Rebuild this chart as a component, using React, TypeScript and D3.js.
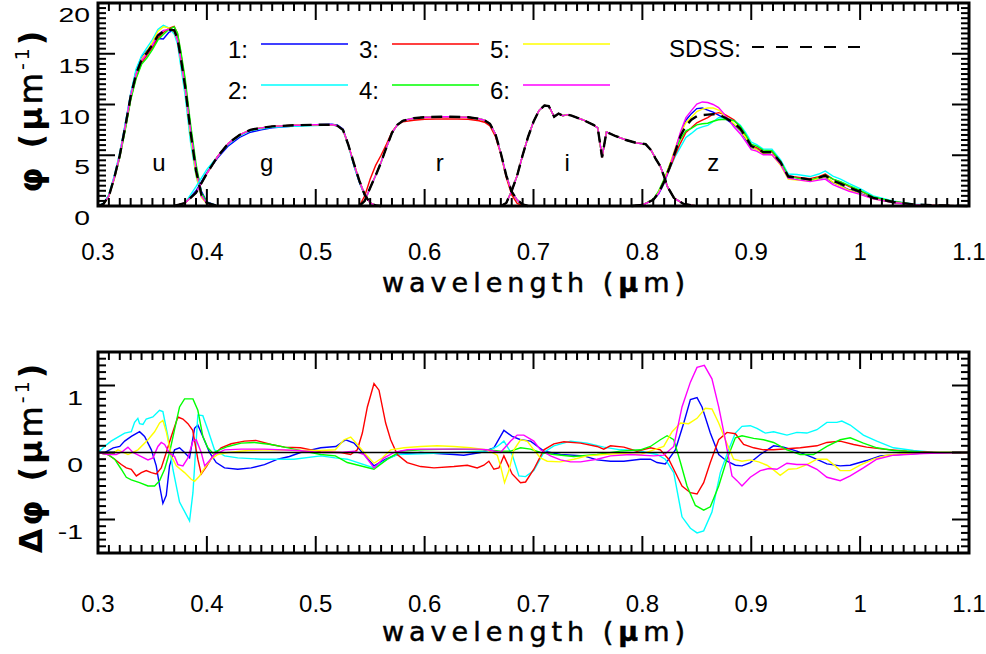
import React from 'react';
import * as d3 from 'd3';

// ---------- axis / legend constants ----------
const X_MAJOR = [0.3, 0.4, 0.5, 0.6, 0.7, 0.8, 0.9, 1.0, 1.1];
const X_LABELS = ['0.3', '0.4', '0.5', '0.6', '0.7', '0.8', '0.9', '1', '1.1'];
const TOP_Y_MAJOR = [0, 5, 10, 15, 20];
const BOT_Y_MAJOR = [-1, 0, 1];
const SERIES_NAMES = ['1:', '2:', '3:', '4:', '5:', '6:'];
const SERIES_COLORS = ['#0000ff', '#00ffff', '#ff0000', '#00ff00', '#ffff00', '#ff00ff'];
const FILTER_NAMES = ['u', 'g', 'r', 'i', 'z'];
const FILTER_LABEL_LAM = [0.356, 0.455, 0.614, 0.731, 0.865];

// ---------- top panel: filter curves (SDSS + six series) ----------
const U_LAM = [0.300, 0.305, 0.310, 0.315, 0.320, 0.325, 0.330, 0.335, 0.340, 0.345, 0.350, 0.355, 0.360, 0.365, 0.370, 0.373, 0.376, 0.380, 0.385, 0.390, 0.395, 0.400, 0.410];
const U_SDSS = [0, 0.2, 1.0, 2.8, 5.0, 7.8, 10.8, 13.0, 14.4, 15.1, 15.9, 16.8, 17.2, 17.4, 17.3, 16.5, 14.6, 11.8, 7.3, 3.5, 1.1, 0.3, 0];
const U_S1 = [0, 0.2, 1.05, 2.9, 5.1, 8.0, 11.0, 13.3, 14.7, 15.3, 15.9, 16.5, 16.45, 17.1, 17.35, 16.55, 14.65, 11.8, 7.25, 3.85, 1.45, 0.4, 0];
const U_S2 = [0, 0.28, 1.15, 3.0, 5.25, 8.1, 11.1, 13.5, 14.8, 15.6, 16.4, 17.4, 17.8, 17.55, 16.95, 15.95, 13.8, 10.9, 6.3, 3.0, 0.9, 0.25, 0];
const U_S3 = [0, 0.19, 0.96, 2.7, 4.85, 7.6, 10.55, 12.65, 14.1, 14.85, 15.6, 16.5, 17.1, 17.5, 17.7, 17.0, 15.1, 12.3, 7.7, 3.6, 1.0, 0.25, 0];
const U_S4 = [0, 0.19, 0.97, 2.7, 4.8, 7.45, 10.4, 12.55, 13.95, 14.6, 15.4, 16.35, 16.9, 17.4, 17.65, 17.05, 15.3, 12.6, 8.1, 4.2, 1.3, 0.35, 0];
const U_S5 = [0, 0.19, 0.98, 2.77, 5.05, 7.8, 10.8, 13.0, 14.45, 15.25, 16.15, 17.2, 17.65, 17.55, 17.15, 16.3, 14.35, 11.5, 6.9, 3.1, 0.85, 0.2, 0];
const U_S6 = [0, 0.2, 0.98, 2.8, 5.0, 7.85, 10.85, 12.98, 14.35, 15.0, 15.85, 16.9, 17.3, 17.4, 17.25, 16.35, 14.45, 11.7, 7.4, 3.65, 1.0, 0.25, 0];

const G_LAM = [0.37, 0.38, 0.39, 0.40, 0.41, 0.42, 0.43, 0.44, 0.45, 0.46, 0.48, 0.50, 0.515, 0.52, 0.525, 0.53, 0.535, 0.54, 0.545, 0.55, 0.555, 0.56];
const G_SDSS = [0, 0.3, 1.3, 3.2, 4.9, 6.2, 7.0, 7.5, 7.7, 7.85, 7.95, 8.0, 8.0, 7.9, 7.5, 6.0, 4.2, 2.5, 1.1, 0.3, 0.05, 0];
const G_S1 = [0, 0.3, 1.5, 3.3, 4.75, 5.95, 6.75, 7.27, 7.5, 7.7, 7.87, 8.02, 8.05, 7.97, 7.6, 6.05, 4.0, 2.35, 1.05, 0.3, 0.05, 0];
const G_S2 = [0, 0.3, 1.9, 3.6, 4.9, 6.1, 6.92, 7.42, 7.6, 7.75, 7.85, 7.93, 7.98, 7.88, 7.45, 5.9, 4.0, 2.4, 1.05, 0.3, 0.05, 0];

const R_LAM = [0.540, 0.545, 0.550, 0.555, 0.560, 0.565, 0.570, 0.575, 0.580, 0.590, 0.600, 0.620, 0.640, 0.650, 0.655, 0.660, 0.665, 0.670, 0.675, 0.680, 0.685, 0.690, 0.695];
const R_SDSS = [0, 0.5, 1.8, 3.0, 4.3, 5.8, 7.2, 8.0, 8.4, 8.65, 8.75, 8.8, 8.75, 8.6, 8.45, 8.1, 7.1, 5.2, 3.0, 1.4, 0.6, 0.15, 0];
const R_S3 = [0, 1.0, 2.65, 4.0, 5.0, 6.1, 7.3, 8.0, 8.3, 8.45, 8.54, 8.58, 8.55, 8.4, 8.25, 7.9, 6.85, 5.1, 2.8, 1.1, 0.25, 0.05, 0];

const I_LAM = [0.670, 0.675, 0.680, 0.685, 0.690, 0.695, 0.700, 0.705, 0.710, 0.714, 0.719, 0.723, 0.727, 0.731, 0.735, 0.745, 0.755, 0.759, 0.763, 0.767, 0.775, 0.785, 0.795, 0.803, 0.808, 0.812, 0.8165, 0.82, 0.823, 0.829, 0.838, 0.85];
const I_SDSS = [0, 0.3, 1.5, 3.0, 5.0, 6.8, 8.3, 9.4, 9.9, 9.85, 8.8, 9.1, 8.9, 9.0, 8.9, 8.5, 8.0, 7.7, 4.8, 7.3, 6.9, 6.5, 6.2, 6.1, 5.5, 4.7, 3.9, 2.9, 1.9, 0.8, 0.2, 0];

const Z_LAM = [0.79, 0.80, 0.81, 0.815, 0.82, 0.825, 0.83, 0.835, 0.84, 0.845, 0.85, 0.855, 0.86, 0.865, 0.87, 0.876, 0.884, 0.89, 0.895, 0.90, 0.905, 0.911, 0.919, 0.927, 0.934, 0.942, 0.954, 0.962, 0.968, 0.975, 0.982, 0.99, 1.0, 1.012, 1.03, 1.05, 1.075, 1.1];
const Z_SDSS = [0, 0.1, 0.6, 1.3, 2.4, 3.8, 5.3, 6.9, 7.9, 8.5, 8.85, 8.95, 9.0, 9.05, 9.0, 8.7, 8.2, 7.6, 6.8, 5.9, 5.7, 5.3, 5.3, 4.3, 2.9, 2.8, 2.6, 2.8, 3.0, 2.5, 2.2, 1.8, 1.4, 0.8, 0.4, 0.15, 0.05, 0];
const Z_S1 = [0, 0.1, 0.6, 1.2, 2.25, 3.8, 5.5, 7.1, 8.45, 9.1, 9.6, 9.65, 9.45, 9.25, 8.95, 8.6, 8.0, 7.4, 6.6, 5.75, 5.6, 5.3, 5.4, 4.4, 2.95, 2.8, 2.55, 2.7, 2.85, 2.3, 2.0, 1.6, 1.25, 0.75, 0.35, 0.12, 0.05, 0];
const Z_S2 = [0, 0.1, 0.6, 1.3, 2.3, 3.6, 4.85, 5.8, 6.75, 7.15, 7.6, 7.8, 7.95, 8.3, 8.7, 8.7, 8.45, 7.95, 7.2, 6.3, 6.05, 5.6, 5.6, 4.55, 3.15, 3.1, 2.9, 3.15, 3.45, 2.95, 2.65, 2.2, 1.7, 1.0, 0.5, 0.18, 0.06, 0];
const Z_S3 = [0, 0.1, 0.6, 1.35, 2.4, 3.65, 5.0, 6.2, 7.25, 7.7, 8.2, 8.45, 8.7, 9.05, 9.2, 9.0, 8.5, 7.75, 6.9, 5.95, 5.75, 5.35, 5.35, 4.35, 2.95, 2.85, 2.7, 2.9, 3.15, 2.65, 2.35, 1.9, 1.5, 0.85, 0.45, 0.15, 0.05, 0];
const Z_S4 = [0, 0.1, 0.65, 1.5, 2.65, 4.0, 5.4, 6.6, 7.4, 7.65, 8.0, 8.1, 8.15, 8.35, 8.5, 8.55, 8.4, 7.85, 7.0, 6.1, 5.9, 5.5, 5.45, 4.4, 2.95, 2.75, 2.55, 2.8, 3.05, 2.65, 2.4, 2.0, 1.55, 0.9, 0.45, 0.15, 0.05, 0];
const Z_S5 = [0, 0.1, 0.6, 1.35, 2.5, 4.05, 5.65, 7.15, 8.2, 8.75, 9.3, 9.55, 9.65, 9.65, 9.45, 8.9, 8.1, 7.45, 6.7, 5.8, 5.55, 5.15, 5.05, 4.0, 2.65, 2.55, 2.45, 2.7, 2.9, 2.35, 1.95, 1.55, 1.2, 0.7, 0.35, 0.13, 0.05, 0];
const Z_S6 = [0, 0.1, 0.6, 1.25, 2.35, 3.8, 5.5, 7.3, 8.7, 9.4, 10.05, 10.25, 10.2, 10.0, 9.7, 8.95, 7.8, 7.1, 6.35, 5.55, 5.4, 5.05, 5.05, 4.1, 2.75, 2.6, 2.4, 2.55, 2.65, 2.1, 1.8, 1.45, 1.15, 0.7, 0.35, 0.13, 0.05, 0];

// ---------- bottom panel: differences [wavelength, delta] ----------
const D1 = [[0.300,0],[0.306,0],[0.314,0.07],[0.320,0.09],[0.3245,0.17],[0.3306,0.24],[0.3382,0.31],[0.3428,0.24],[0.349,0.04],[0.3535,-0.2],[0.3566,-0.5],[0.3596,-0.76],[0.3627,-0.64],[0.3657,-0.2],[0.3703,0.04],[0.3749,0.07],[0.3795,0],[0.3841,-0.08],[0.3887,0.36],[0.3917,0.41],[0.3963,0.24],[0.4024,0],[0.4086,-0.15],[0.4162,-0.23],[0.4284,-0.25],[0.4407,-0.23],[0.4529,-0.18],[0.4651,-0.1],[0.4758,-0.06],[0.486,0],[0.5046,0.07],[0.5184,0.09],[0.5275,0.19],[0.5352,0.14],[0.5444,-0.03],[0.5535,-0.2],[0.5642,-0.1],[0.5749,-0.03],[0.5963,0],[0.6269,-0.03],[0.636,-0.04],[0.6514,0],[0.6636,0.07],[0.6728,0.33],[0.6804,0.24],[0.6881,0.19],[0.6973,0.17],[0.7095,0.02],[0.7248,-0.03],[0.7462,-0.05],[0.7584,-0.11],[0.7707,-0.13],[0.783,-0.13],[0.7982,-0.1],[0.8074,-0.1],[0.8135,-0.15],[0.8211,-0.17],[0.8303,0.04],[0.838,0.44],[0.8441,0.79],[0.8502,0.82],[0.8548,0.68],[0.8624,0.29],[0.8701,-0.03],[0.8777,-0.13],[0.8854,-0.19],[0.8915,-0.2],[0.8991,-0.15],[0.9083,-0.03],[0.9205,0.1],[0.9297,0.08],[0.9419,0.02],[0.9572,-0.08],[0.9695,-0.17],[0.9817,-0.2],[0.9909,-0.19],[1.006,-0.12],[1.0184,-0.05],[1.036,-0.03],[1.058,-0.01],[1.1,0]];
const D2 = [[0.300,0],[0.306,0.09],[0.312,0.17],[0.3245,0.29],[0.3306,0.31],[0.3336,0.45],[0.3366,0.51],[0.3382,0.43],[0.3413,0.42],[0.3443,0.5],[0.3504,0.53],[0.3565,0.63],[0.3596,0.61],[0.3642,0.24],[0.3688,-0.25],[0.3749,-0.74],[0.3841,-1.02],[0.3872,-0.6],[0.3917,0.56],[0.3963,0.55],[0.4009,0.34],[0.407,0.04],[0.4162,-0.05],[0.4284,-0.08],[0.45,-0.1],[0.48,-0.1],[0.5046,-0.05],[0.518,-0.08],[0.529,-0.1],[0.5535,-0.23],[0.5658,-0.1],[0.5749,-0.03],[0.5963,-0.02],[0.6269,0],[0.6575,0.02],[0.6667,0.09],[0.6728,0.17],[0.6804,-0.03],[0.6866,-0.35],[0.6927,-0.36],[0.7003,-0.27],[0.7095,0],[0.7187,0.1],[0.734,0.17],[0.7493,0.14],[0.7645,0.08],[0.7798,0.04],[0.7951,0.03],[0.8135,-0.03],[0.821,-0.1],[0.8288,-0.3],[0.8364,-0.96],[0.8441,-1.13],[0.8502,-1.2],[0.8563,-1.17],[0.8639,-0.89],[0.8716,-0.3],[0.8792,0.04],[0.8854,0.29],[0.8915,0.39],[0.8991,0.4],[0.9052,0.36],[0.9129,0.29],[0.9205,0.31],[0.9328,0.26],[0.9419,0.3],[0.9511,0.29],[0.9603,0.34],[0.9695,0.45],[0.9786,0.45],[0.9832,0.47],[0.9909,0.41],[1.003,0.26],[1.0153,0.17],[1.0306,0.07],[1.049,0.03],[1.067,0.005],[1.1,0]];
const D3 = [[0.300,0],[0.309,-0.03],[0.3153,-0.1],[0.3214,-0.18],[0.326,-0.23],[0.3306,-0.25],[0.3352,-0.35],[0.3398,-0.3],[0.3443,-0.27],[0.349,-0.3],[0.3535,-0.32],[0.3581,-0.23],[0.3627,0],[0.3673,0.24],[0.3734,0.53],[0.378,0.5],[0.3826,0.43],[0.387,0.33],[0.3917,-0.1],[0.3948,-0.32],[0.4,-0.2],[0.4055,-0.05],[0.4131,0.07],[0.4223,0.13],[0.4346,0.17],[0.445,0.18],[0.459,0.12],[0.4713,0.08],[0.486,0.07],[0.5046,0.01],[0.523,0],[0.532,-0.03],[0.5382,0.04],[0.5428,0.29],[0.5474,0.68],[0.5535,1.03],[0.5581,0.93],[0.5642,0.44],[0.5688,0.19],[0.5749,-0.03],[0.584,-0.15],[0.5963,-0.21],[0.6086,-0.23],[0.6269,-0.21],[0.6392,-0.19],[0.6483,-0.23],[0.6544,-0.19],[0.659,-0.13],[0.6636,-0.25],[0.6682,-0.23],[0.6728,-0.05],[0.6804,-0.32],[0.6881,-0.45],[0.6927,-0.44],[0.7003,-0.25],[0.7095,0.04],[0.7187,0.13],[0.7279,0.16],[0.7432,0.14],[0.7584,0.09],[0.7645,0.05],[0.7707,0.1],[0.783,0.08],[0.7951,0.02],[0.8074,0.07],[0.8165,0.04],[0.8242,-0.1],[0.8288,-0.25],[0.8364,-0.5],[0.8441,-0.6],[0.8502,-0.62],[0.8563,-0.45],[0.8624,-0.15],[0.8701,0.19],[0.8777,0.3],[0.8854,0.28],[0.893,0.12],[0.9022,0.07],[0.9113,0.04],[0.9205,0.04],[0.945,0.07],[0.9603,0.1],[0.9695,0.15],[0.9817,0.17],[0.994,0.12],[1.006,0.08],[1.0215,0.05],[1.043,0.02],[1.073,0],[1.1,0]];
const D4 = [[0.300,0],[0.309,-0.03],[0.3153,-0.1],[0.3214,-0.25],[0.326,-0.37],[0.3306,-0.41],[0.3382,-0.45],[0.3459,-0.5],[0.352,-0.5],[0.3566,-0.42],[0.3612,-0.25],[0.3657,0],[0.3703,0.34],[0.3749,0.68],[0.3795,0.8],[0.3872,0.8],[0.3917,0.63],[0.3963,0.24],[0.4009,0.07],[0.4055,-0.01],[0.4116,0.04],[0.4193,0.09],[0.4315,0.14],[0.4437,0.15],[0.459,0.12],[0.4713,0.08],[0.4835,0.04],[0.5046,-0.03],[0.518,-0.05],[0.529,-0.15],[0.5535,-0.25],[0.5658,-0.1],[0.578,0.02],[0.5963,0.04],[0.6269,0.05],[0.6575,0.04],[0.6697,0.02],[0.679,0.02],[0.6881,0.07],[0.6973,0.05],[0.7064,0],[0.7187,-0.03],[0.737,-0.06],[0.7584,-0.03],[0.7798,0.02],[0.7982,0.04],[0.8074,0.09],[0.8165,0.19],[0.8227,0.25],[0.8288,0.19],[0.835,-0.15],[0.841,-0.5],[0.8487,-0.79],[0.8563,-0.86],[0.8624,-0.81],[0.8701,-0.5],[0.8777,-0.1],[0.8854,0.22],[0.8915,0.25],[0.9022,0.21],[0.9113,0.19],[0.9205,0.15],[0.9328,0.04],[0.945,-0.03],[0.9572,-0.03],[0.9695,0.09],[0.9817,0.19],[0.9909,0.22],[1.003,0.14],[1.0153,0.07],[1.0306,0.03],[1.058,0.005],[1.1,0]];
const D5 = [[0.300,0],[0.3122,-0.03],[0.3183,0.04],[0.3275,-0.03],[0.3367,0.04],[0.3459,0.19],[0.352,0.31],[0.3566,0.44],[0.3596,0.48],[0.3627,0.31],[0.3673,-0.05],[0.3719,-0.2],[0.3795,-0.3],[0.3856,-0.4],[0.3887,-0.43],[0.3933,-0.35],[0.3979,-0.23],[0.404,-0.1],[0.41,-0.03],[0.4193,0],[0.4376,0.03],[0.459,0.04],[0.4835,0.03],[0.5046,0.03],[0.518,0.04],[0.526,0.19],[0.5321,0.23],[0.5382,0.12],[0.5459,-0.03],[0.5535,-0.16],[0.5612,-0.08],[0.5688,0.04],[0.581,0.07],[0.5963,0.09],[0.6116,0.1],[0.6269,0.09],[0.6422,0.07],[0.6575,0.04],[0.6667,-0.04],[0.6697,-0.2],[0.6734,-0.45],[0.6774,-0.27],[0.682,0.04],[0.6881,0.19],[0.6942,0.17],[0.7003,0.04],[0.7064,-0.08],[0.7126,-0.13],[0.7248,-0.14],[0.737,-0.1],[0.7493,-0.05],[0.7645,-0.03],[0.7798,-0.015],[0.7982,-0.03],[0.8104,0.04],[0.8196,0.09],[0.8273,0.31],[0.835,0.44],[0.8425,0.43],[0.8502,0.51],[0.8578,0.66],[0.8639,0.65],[0.8701,0.44],[0.8762,0.19],[0.8838,-0.1],[0.8915,-0.13],[0.8991,-0.11],[0.9068,-0.14],[0.9144,-0.19],[0.9205,-0.26],[0.9266,-0.34],[0.9343,-0.25],[0.9419,-0.24],[0.9511,-0.18],[0.9603,-0.1],[0.9695,-0.1],[0.9771,-0.2],[0.9817,-0.27],[0.9909,-0.27],[1.0,-0.19],[1.0123,-0.1],[1.0245,-0.04],[1.0428,-0.015],[1.073,0],[1.1,0]];
const D6 = [[0.300,0],[0.309,-0.03],[0.3168,-0.03],[0.323,0.02],[0.3275,0.08],[0.3321,0],[0.3398,-0.06],[0.3459,-0.11],[0.3505,-0.08],[0.355,0.09],[0.3581,0.15],[0.3612,0.12],[0.3657,-0.01],[0.3703,-0.06],[0.3734,-0.18],[0.378,-0.2],[0.3826,-0.08],[0.3872,0.17],[0.3902,0.19],[0.3948,0.0],[0.398,-0.2],[0.4025,-0.12],[0.407,-0.03],[0.4162,0.04],[0.4315,0.05],[0.4529,0.05],[0.4835,0.03],[0.5046,0],[0.523,0],[0.5352,0.02],[0.5444,-0.03],[0.5535,-0.23],[0.5627,-0.08],[0.572,0],[0.584,0.04],[0.5963,0.05],[0.6269,0.05],[0.648,0.05],[0.6575,0.04],[0.6697,0],[0.679,0.17],[0.685,0.26],[0.6911,0.26],[0.7003,0.17],[0.7064,0.04],[0.7156,-0.05],[0.7248,-0.11],[0.734,-0.14],[0.7432,-0.14],[0.7584,-0.1],[0.7707,-0.05],[0.789,-0.03],[0.8104,-0.05],[0.8196,-0.04],[0.8288,0.09],[0.8364,0.68],[0.8441,1.05],[0.8502,1.27],[0.8569,1.3],[0.8639,1.1],[0.8701,0.68],[0.8762,0.19],[0.8823,-0.35],[0.8869,-0.42],[0.8915,-0.5],[0.8991,-0.37],[0.9083,-0.27],[0.916,-0.24],[0.9236,-0.25],[0.9328,-0.16],[0.9419,-0.18],[0.9511,-0.18],[0.9603,-0.25],[0.9695,-0.37],[0.9817,-0.42],[0.9909,-0.35],[1.003,-0.23],[1.0153,-0.1],[1.0306,-0.04],[1.058,-0.015],[1.088,0],[1.1,0]];

const FILTERS = [
  { lam: U_LAM, sdss: U_SDSS, series: [U_S1, U_S2, U_S3, U_S4, U_S5, U_S6] },
  { lam: G_LAM, sdss: G_SDSS, series: [G_S1, G_S2, G_SDSS, G_SDSS, G_SDSS, G_SDSS] },
  { lam: R_LAM, sdss: R_SDSS, series: [R_SDSS, R_SDSS, R_S3, R_SDSS, R_SDSS, R_SDSS] },
  { lam: I_LAM, sdss: I_SDSS, series: [I_SDSS, I_SDSS, I_SDSS, I_SDSS, I_SDSS, I_SDSS] },
  { lam: Z_LAM, sdss: Z_SDSS, series: [Z_S1, Z_S2, Z_S3, Z_S4, Z_S5, Z_S6] },
];
const DELTAS = [D1, D2, D3, D4, D5, D6];

// ---------- layout ----------
const W = 986, H = 654;
const PX0 = 98, PX1 = 969;
const TOP = { y0: 3, y1: 206 };
const BOT = { y0: 352, y1: 553 };
const MAJ = 17, MIN = 8;
const SANS = 'Liberation Sans, Arial, Helvetica, sans-serif';
const TITLE_FONT = 'DejaVu Sans, Verdana, sans-serif';

const x = d3.scaleLinear().domain([0.3, 1.1]).range([PX0, PX1]);
const yTop = d3.scaleLinear().domain([0, 20]).range([TOP.y1, TOP.y0]);
const yBot = d3.scaleLinear().domain([-1.5, 1.5]).range([BOT.y1, BOT.y0]);

function Frame({ y0, y1, yScale, yMinorStep, yMajorStep, yMin, yMax }: any) {
  const ticks: any[] = [];
  const xs = d3.range(0, 81).map((i) => ({ v: 0.3 + i * 0.01, major: i % 10 === 0 }));
  xs.forEach((t, i) => {
    const px = x(t.v);
    const len = t.major ? MAJ : MIN;
    ticks.push(<line key={'xb' + i} x1={px} x2={px} y1={y1} y2={y1 - len} />);
    ticks.push(<line key={'xt' + i} x1={px} x2={px} y1={y0} y2={y0 + len} />);
  });
  const n = Math.round((yMax - yMin) / yMinorStep);
  d3.range(0, n + 1).forEach((i) => {
    const v = yMin + i * yMinorStep;
    const isMaj = Math.abs(v / yMajorStep - Math.round(v / yMajorStep)) < 1e-6;
    const py = yScale(v);
    const len = isMaj ? MAJ : MIN;
    ticks.push(<line key={'yl' + i} x1={PX0} x2={PX0 + len} y1={py} y2={py} />);
    ticks.push(<line key={'yr' + i} x1={PX1} x2={PX1 - len} y1={py} y2={py} />);
  });
  return (
    <g>
      <g stroke="#000" strokeWidth={2}>{ticks}</g>
      <rect x={PX0} y={y0} width={PX1 - PX0} height={y1 - y0} fill="none" stroke="#000" strokeWidth={3} />
    </g>
  );
}

function XLabels({ baseline, titleBaseline }: any) {
  return (
    <g>
      {X_MAJOR.map((v, i) => (
        <text key={i} x={x(v)} y={baseline} textAnchor="middle" fontFamily={SANS} fontSize={24}>
          {X_LABELS[i]}
        </text>
      ))}
      <text x={536} y={titleBaseline} textAnchor="middle" fontFamily={TITLE_FONT} fontSize={27}
        letterSpacing={5} stroke="#000" strokeWidth={0.5}>
        wavelength (<tspan fontWeight="bold">μ</tspan>m)
      </text>
    </g>
  );
}

function YTitle({ cx, cy, prefix }: any) {
  return (
    <text transform={`translate(${cx},${cy}) rotate(-90)`} textAnchor="middle" fontFamily={TITLE_FONT}
      fontSize={32} fontWeight="bold" letterSpacing={3}>
      <tspan>{prefix}</tspan>
      <tspan dx={16}>(</tspan>
      <tspan>μ</tspan>
      <tspan fontWeight="normal" stroke="#000" strokeWidth={0.6}>m</tspan>
      <tspan dy={-13} fontSize={19} fontWeight="normal">-1</tspan>
      <tspan dy={13}>)</tspan>
    </text>
  );
}

export default function App() {
  const lineTop = d3.line<number[]>().x((d) => x(d[0])).y((d) => yTop(d[1]));
  const lineBot = d3.line<number[]>().x((d) => x(d[0])).y((d) => yBot(d[1]));

  const legendCols = [248, 379, 510];
  const legendRows = [44, 85];

  return (
    <svg width={W} height={H} style={{ position: 'absolute', left: 0, top: 0, background: '#fff' }}>
      <rect width={W} height={H} fill="#fff" />

      {/* ---------- top panel ---------- */}
      <g fill="none" strokeWidth={1.4}>
        {FILTERS.map((f, fi) =>
          f.series.map((s, si) => (
            <path key={fi + '-' + si} d={lineTop(f.lam.map((l, k) => [l, s[k]])) || ''} stroke={SERIES_COLORS[si]} />
          ))
        )}
        {FILTERS.map((f, fi) => (
          <path key={'sdss' + fi} d={lineTop(f.lam.map((l, k) => [l, f.sdss[k]])) || ''} stroke="#000" strokeWidth={2.4} strokeDasharray="11,7" />
        ))}
      </g>

      {FILTER_NAMES.map((n, i) => (
        <text key={n} x={x(FILTER_LABEL_LAM[i])} y={171} textAnchor="middle" fontFamily={SANS} fontSize={24}>
          {n}
        </text>
      ))}

      {/* legend */}
      {SERIES_NAMES.map((n, i) => {
        const cx = legendCols[Math.floor(i / 2)];
        const cy = legendRows[i % 2];
        return (
          <g key={n}>
            <text x={cx} y={cy + 14} textAnchor="end" fontFamily={SANS} fontSize={24}>{n}</text>
            <line x1={cx + 13} x2={cx + 100} y1={cy} y2={cy} stroke={SERIES_COLORS[i]} strokeWidth={1.4} />
          </g>
        );
      })}
      <text x={741} y={57} textAnchor="end" fontFamily={SANS} fontSize={24}>SDSS:</text>
      <line x1={752} x2={872} y1={47} y2={47} stroke="#000" strokeWidth={2} strokeDasharray="12,12" />

      <Frame y0={TOP.y0} y1={TOP.y1} yScale={yTop} yMinorStep={0.5} yMajorStep={5} yMin={0} yMax={20} />
      {TOP_Y_MAJOR.map((v) => (
        <text key={v} transform={`translate(90,${yTop(v) + 19}) scale(1.35,1)`} textAnchor="end" fontFamily={SANS} fontSize={21}>
          {v}
        </text>
      ))}
      <YTitle cx={42} cy={110} prefix="φ" />
      <XLabels baseline={260} titleBaseline={292} />

      {/* ---------- bottom panel ---------- */}
      <g fill="none" strokeWidth={1.4}>
        {DELTAS.map((d, i) => (
          <path key={i} d={lineBot(d) || ''} stroke={SERIES_COLORS[i]} />
        ))}
      </g>
      <line x1={x(0.3)} x2={x(1.1)} y1={yBot(0)} y2={yBot(0)} stroke="#000" strokeWidth={1.5} />
      <Frame y0={BOT.y0} y1={BOT.y1} yScale={yBot} yMinorStep={0.1} yMajorStep={1} yMin={-1.5} yMax={1.5} />
      {BOT_Y_MAJOR.map((v) => (
        <text key={v} transform={`translate(83,${yBot(v) + 19}) scale(1.35,1)`} textAnchor="end" fontFamily={SANS} fontSize={21}>
          {v}
        </text>
      ))}
      <YTitle cx={42} cy={457} prefix="Δφ" />
      <XLabels baseline={612} titleBaseline={641} />
    </svg>
  );
}
